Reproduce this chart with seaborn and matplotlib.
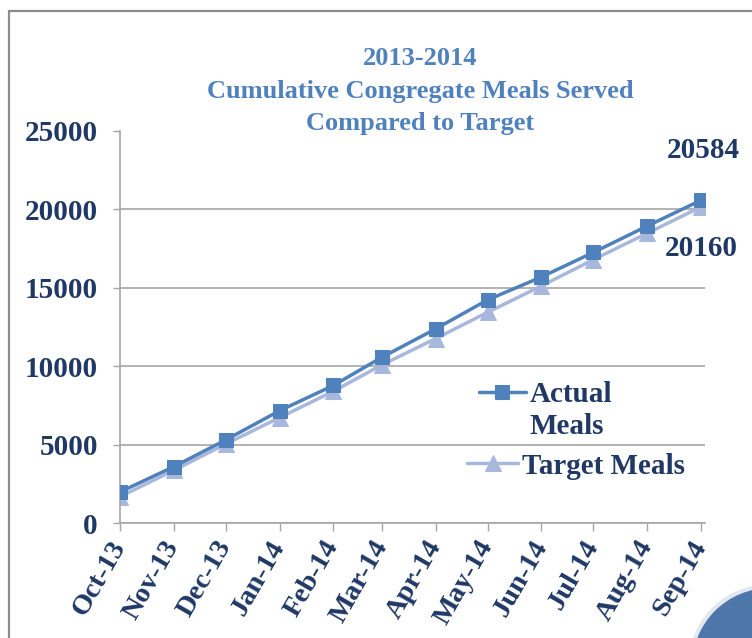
import matplotlib
matplotlib.use('Agg')
import matplotlib.pyplot as plt
import matplotlib.transforms as mtransforms
from matplotlib.patches import Rectangle, Circle
import seaborn as sns
import pandas as pd

# ---- data ----
months = ['2013-10-01', '2013-11-01', '2013-12-01', '2014-01-01', '2014-02-01', '2014-03-01',
          '2014-04-01', '2014-05-01', '2014-06-01', '2014-07-01', '2014-08-01', '2014-09-01']
month_labels = ['Oct-13', 'Nov-13', 'Dec-13', 'Jan-14', 'Feb-14', 'Mar-14',
                'Apr-14', 'May-14', 'Jun-14', 'Jul-14', 'Aug-14', 'Sep-14']
actual_meals = [1980, 3590, 5300, 7160, 8770, 10570, 12380, 14230, 15690, 17260, 18940, 20584]
target_meals = [1680, 3360, 5040, 6720, 8400, 10080, 11760, 13440, 15120, 16800, 18480, 20160]
y_ticks = [0, 5000, 10000, 15000, 20000, 25000]
title_lines = ['2013-2014', 'Cumulative Congregate Meals Served', 'Compared to Target']

# ---- style ----
sns.set_theme(style='white')
plt.rcParams['font.family'] = ['Liberation Serif', 'DejaVu Serif']
navy = '#1F3864'
title_blue = '#4F81BD'
actual_col = '#4F81BD'
target_col = '#A8B8DC'
grid_col = '#A6A6A6'

fig = plt.figure(figsize=(7.52, 6.38), dpi=100)
W, H = 752, 638
ax = fig.add_axes([120 / W, 115 / H, 585 / W, 392 / H])

dates = pd.to_datetime(months)
df = pd.DataFrame({'Month': dates, 'Actual': actual_meals, 'Target': target_meals})

sns.lineplot(data=df, x='Month', y='Target', ax=ax, color=target_col, lw=2.5,
             marker='^', markersize=12, markeredgecolor=target_col, zorder=2,
             label='Target Meals', legend=False)
sns.lineplot(data=df, x='Month', y='Actual', ax=ax, color=actual_col, lw=2.5,
             marker='s', markersize=10.5, markeredgecolor=actual_col, zorder=3,
             label='Actual', legend=False)

ax.set_xlim(dates[0], dates[-1] + pd.Timedelta(days=2.3))
ax.set_ylim(0, 25000)
ax.set_xlabel('')
ax.set_ylabel('')

ax.set_xticks(dates)
ax.set_xticklabels(month_labels, rotation=60, ha='right', va='center',
                   rotation_mode='anchor', fontsize=20.5, fontweight='bold', color=navy)
ax.set_yticks(y_ticks)
ax.set_yticklabels([str(v) for v in y_ticks], fontsize=21, fontweight='bold', color=navy)
ax.tick_params(axis='x', bottom=True, length=6, width=1, color=grid_col, direction='out', pad=8)
ax.tick_params(axis='y', left=True, length=5, width=1, color=grid_col, direction='out', pad=11)

ax.yaxis.grid(True, color=grid_col, lw=1.2)
ax.xaxis.grid(False)
for gl, v in zip(ax.yaxis.get_gridlines(), y_ticks):
    if v == 25000:
        gl.set_visible(False)

for side in ['top', 'right']:
    ax.spines[side].set_visible(False)
for side in ['left', 'bottom']:
    ax.spines[side].set_color(grid_col)
    ax.spines[side].set_linewidth(1.2)

# data labels for last points
ax.annotate(str(actual_meals[-1]), xy=(dates[-1], actual_meals[-1]), xytext=(1.5, 36),
            textcoords='offset points', ha='center', va='center',
            fontsize=21, fontweight='bold', color=navy)
ax.annotate(str(target_meals[-1]), xy=(dates[-1], target_meals[-1]), xytext=(0, -30),
            textcoords='offset points', ha='center', va='center',
            fontsize=21, fontweight='bold', color=navy)

# legends (two separate entries, as in the original layout)
line_t, line_a = ax.get_lines()[0], ax.get_lines()[1]
leg_kw = dict(frameon=False, borderpad=0, borderaxespad=0, handletextpad=0.15,
              bbox_transform=fig.transFigure, prop={'size': 21, 'weight': 'bold'})
leg1 = ax.legend([line_a], ['Actual'], loc='center left',
                 bbox_to_anchor=(479 / W, 1 - 395 / H), handlelength=1.6, **leg_kw)
ax.add_artist(leg1)
leg2 = ax.legend([line_t], ['Target Meals'], loc='center left',
                 bbox_to_anchor=(467 / W, 1 - 466 / H), handlelength=1.75, **leg_kw)
for lg in (leg1, leg2):
    for t in lg.get_texts():
        t.set_color(navy)
fig.text(529 / W, 1 - 427 / H, 'Meals', ha='left', va='center',
         fontsize=21, fontweight='bold', color=navy)

# title
fig.text(420 / W, 1 - 47 / H, '\n'.join(title_lines), ha='center', va='top',
         fontsize=19, fontweight='bold', color=title_blue, linespacing=1.53)

# frame and decoration
fig.add_artist(Rectangle((9 / W, -0.1), 1.2, (H - 11) / H + 0.1, transform=fig.transFigure,
                         fill=False, ec='#8C8C8C', lw=1.6))
fig.add_artist(Circle((770, H - 666), 80, transform=mtransforms.IdentityTransform(),
                      fc='#4F76A8', ec='#E3E8EF', lw=3))

fig.savefig('out.png', dpi=100)
